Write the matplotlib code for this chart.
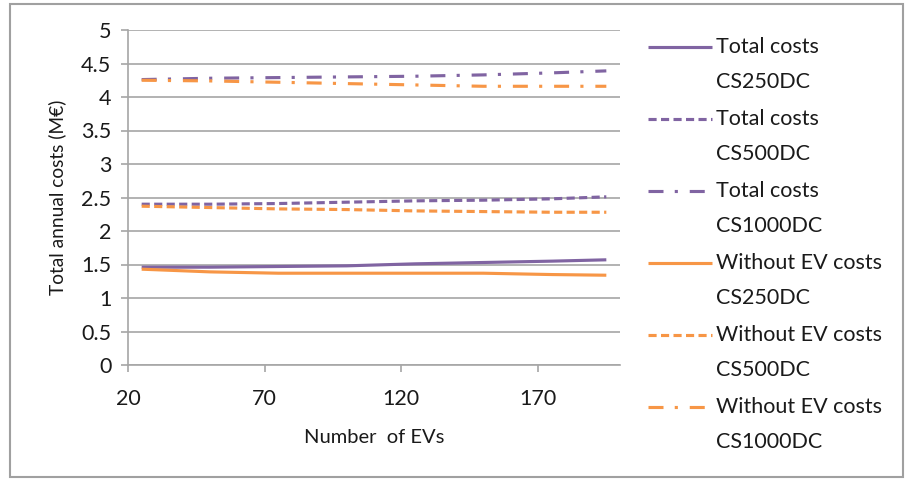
import matplotlib.pyplot as plt
from matplotlib.lines import Line2D
from matplotlib.patches import Rectangle

# data
evs = [25, 50, 75, 100, 125, 150, 175, 195]
total_250 = [1.46, 1.46, 1.47, 1.48, 1.51, 1.53, 1.55, 1.57]
total_500 = [2.40, 2.40, 2.41, 2.43, 2.45, 2.46, 2.48, 2.51]
total_1000 = [4.26, 4.28, 4.29, 4.30, 4.31, 4.33, 4.36, 4.39]
wo_250 = [1.43, 1.39, 1.37, 1.37, 1.37, 1.37, 1.35, 1.34]
wo_500 = [2.37, 2.35, 2.33, 2.32, 2.30, 2.29, 2.28, 2.28]
wo_1000 = [4.25, 4.24, 4.22, 4.20, 4.18, 4.16, 4.16, 4.16]

labels = ["Total costs\nCS250DC", "Total costs\nCS500DC", "Total costs\nCS1000DC",
          "Without EV costs\nCS250DC", "Without EV costs\nCS500DC", "Without EV costs\nCS1000DC"]
series = [total_250, total_500, total_1000, wo_250, wo_500, wo_1000]

purple = "#8064A2"
orange = "#F79646"
colors = [purple, purple, purple, orange, orange, orange]
dash_solid = None
dash_short = (2.6, 1.4)
dash_dot = (4.8, 3.6, 1.0, 3.8)
styles = [dash_solid, dash_short, dash_dot, dash_solid, dash_short, dash_dot]

plt.rcParams['font.family'] = ['Lato', 'DejaVu Sans']

fig = plt.figure(figsize=(9.05, 4.79), dpi=100)
W, H = 905, 479
ax = fig.add_axes([128 / W, 1 - 365 / H, (620 - 128) / W, (365 - 30) / H])

txt = '#1a1a1a'
fs = 15.5
lw = 2.25
for y, c, d in zip(series, colors, styles):
    line, = ax.plot(evs, y, color=c, lw=lw, solid_capstyle='butt')
    if d is not None:
        line.set_dashes(d)
        line.set_dash_capstyle('butt')

ax.set_xlim(20, 200)
ax.set_ylim(0, 5)
ax.set_xticks([20, 70, 120, 170])
ax.set_yticks([i * 0.5 for i in range(11)])
ax.set_yticklabels(['0', '0.5', '1', '1.5', '2', '2.5', '3', '3.5', '4', '4.5', '5'])
ax.grid(axis='y', color='#A6A6A6', lw=1.2)
ax.set_axisbelow(True)
for s in ['top', 'right']:
    ax.spines[s].set_visible(False)
for s in ['left', 'bottom']:
    ax.spines[s].set_color('#A6A6A6')
    ax.spines[s].set_linewidth(1.2)
ax.tick_params(axis='both', colors='#A6A6A6', labelcolor=txt, labelsize=fs,
               length=5, width=1.2, direction='out')
ax.tick_params(axis='x', pad=12)
ax.tick_params(axis='y', pad=7)
ax.set_xlabel("Number  of EVs", fontsize=14.5, color=txt, labelpad=15)
ax.set_ylabel("Total annual costs (M\u20ac)", fontsize=13.8, color=txt, labelpad=11)

# legend drawn by hand so the handle sits on the first text line
for i, (lab, c, d) in enumerate(zip(labels, colors, styles)):
    ytop = 47 + i * 72
    ln = Line2D([648 / W, 712 / W], [1 - ytop / H, 1 - ytop / H], transform=fig.transFigure,
                color=c, lw=lw, solid_capstyle='butt')
    if d is not None:
        ln.set_dashes(d)
        ln.set_dash_capstyle('butt')
    fig.add_artist(ln)
    first, second = lab.split("\n")
    fig.text(716 / W, 1 - ytop / H, first, fontsize=fs, color=txt, va='center')
    fig.text(716 / W, 1 - (ytop + 35) / H, second, fontsize=fs, color=txt, va='center')

fig.add_artist(Rectangle((10 / W, 1 - 477 / H), 893 / W, 473 / H, transform=fig.transFigure,
                         fill=False, edgecolor='#A0A0A0', lw=1.5))

fig.savefig("out.png", dpi=100)
